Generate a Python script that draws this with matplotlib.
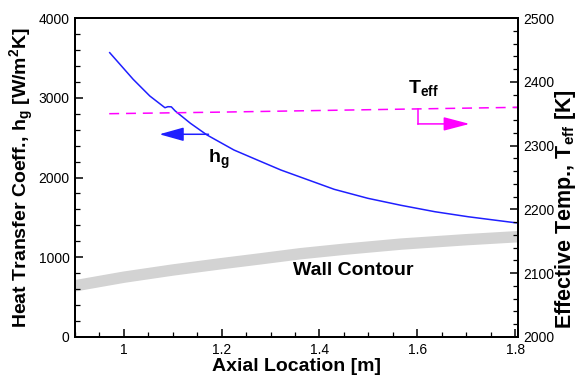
import matplotlib
matplotlib.use("Agg")
import matplotlib.pyplot as plt
from matplotlib.ticker import MultipleLocator, FuncFormatter

plt.rcParams['font.family'] = ['Liberation Sans', 'DejaVu Sans']
plt.rcParams['mathtext.fontset'] = 'custom'
plt.rcParams['mathtext.rm'] = 'Liberation Sans:bold'
plt.rcParams['mathtext.bf'] = 'Liberation Sans:bold'
plt.rcParams['mathtext.it'] = 'Liberation Sans:bold'
plt.rcParams['mathtext.default'] = 'bf'

# Heat transfer coefficient h_g [W/m^2K] vs axial location [m]
hg_x = [0.971, 1.019, 1.053, 1.084, 1.090, 1.097, 1.105, 1.136, 1.170, 1.225, 1.273,
        1.321, 1.362, 1.430, 1.499, 1.567, 1.636, 1.704, 1.800, 1.806]
hg_y = [3565, 3231, 3022, 2875, 2888, 2886, 2834, 2680, 2533, 2345, 2219,
        2094, 2003, 1852, 1739, 1651, 1571, 1508, 1433, 1430]

# Effective temperature T_eff [K]
teff_x = [0.97, 1.2, 1.4, 1.6, 1.806]
teff_y = [2350, 2352.5, 2355, 2357.5, 2360]

# Wall contour (shape only, drawn on left axis scale)
wall_x = [0.9, 1.0, 1.1, 1.2, 1.279, 1.362, 1.45, 1.567, 1.7, 1.806]
wall_y = [642, 750, 840, 920, 980, 1045, 1100, 1165, 1220, 1258]

fig = plt.figure(figsize=(5.78, 3.78), dpi=100)
ax = fig.add_axes([75/578, 41/378, 443/578, 319/378])
ax2 = ax.twinx()

ax.plot(wall_x, wall_y, color='#d3d3d3', lw=8.2, solid_capstyle='butt', zorder=1)
ax.plot(hg_x, hg_y, color='#1f1fff', lw=1.1, zorder=3)
ax2.plot(teff_x, teff_y, color='magenta', lw=1.1, dashes=(6.5, 4.5))

ax.set_xlim(0.9, 1.806)
ax.set_ylim(0, 4000)
ax2.set_ylim(2000, 2500)

ax.xaxis.set_major_locator(MultipleLocator(0.2))
ax.xaxis.set_minor_locator(MultipleLocator(0.05))
ax.yaxis.set_major_locator(MultipleLocator(1000))
ax.yaxis.set_minor_locator(MultipleLocator(200))
ax2.yaxis.set_major_locator(MultipleLocator(100))
ax2.yaxis.set_minor_locator(MultipleLocator(20))
ax.xaxis.set_major_formatter(FuncFormatter(lambda v, p: f"{v:g}"))

for a in (ax, ax2):
    for s in a.spines.values():
        s.set_linewidth(1.4)
    a.tick_params(which='major', direction='in', length=6, width=1.1, labelsize=10, pad=4)
    a.tick_params(which='minor', direction='in', length=3.5, width=0.9)
ax.tick_params(axis='x', which='both', top=False, pad=4)
ax.tick_params(axis='y', which='both', right=False)

ax.set_xlabel('Axial Location [m]', fontsize=14, fontweight='bold', va='center')
ax.xaxis.set_label_coords(0.501, -0.093)
ax.set_ylabel(r'Heat Transfer Coeff., h$_{g}$ [W/m$^{2}$K]', fontsize=14, fontweight='bold',
              va='center', ha='center')
ax.yaxis.set_label_coords(-0.12, 0.5)
ax2.set_ylabel(r'Effective Temp., T$_{eff}$ [K]', fontsize=15.5, fontweight='bold',
               rotation=90, va='center', ha='center')
ax2.yaxis.set_label_coords(1.108, 0.40)

# annotations
ax.annotate('', xy=(1.0725, 2542), xytext=(1.173, 2542),
            arrowprops=dict(arrowstyle='-|>,head_length=1.5,head_width=0.42', color='#1f1fff',
                            lw=1.1, shrinkA=0, shrinkB=0, mutation_scale=10))
ax.text(1.1726, 2182, r'h$_{g}$', fontsize=14, fontweight='bold', ha='left', va='baseline')

ax2.plot([1.601, 1.601], [2357.5, 2334], color='magenta', lw=1.1)
ax2.annotate('', xy=(1.707, 2334), xytext=(1.601, 2334),
             arrowprops=dict(arrowstyle='-|>,head_length=1.6,head_width=0.42', color='magenta',
                             lw=1.1, shrinkA=0, shrinkB=0, mutation_scale=10))
ax.text(1.581, 3056, r'T$_{eff}$', fontsize=14, fontweight='bold', ha='left', va='baseline')

ax.text(1.47, 840, 'Wall Contour', fontsize=14, fontweight='bold', ha='center', va='center')

fig.savefig('out.png', dpi=100)
